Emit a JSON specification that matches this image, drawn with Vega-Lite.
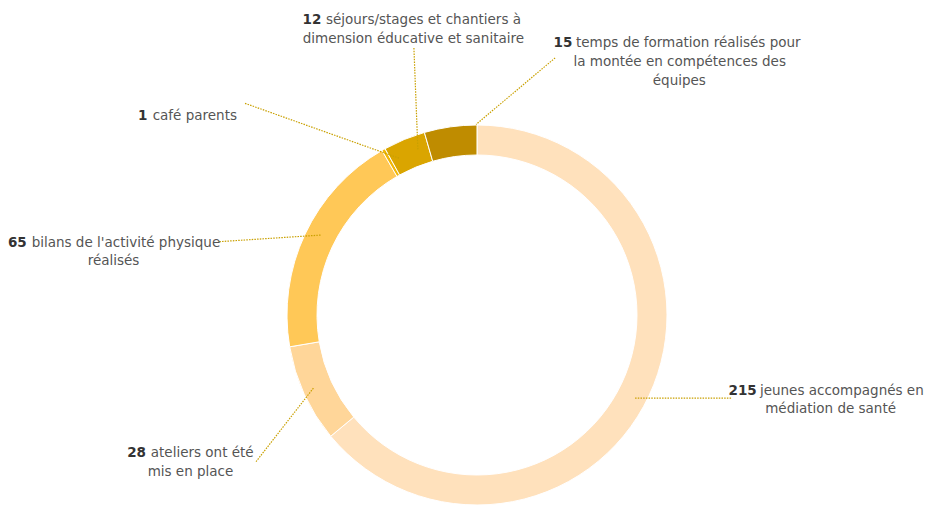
{
  "$schema": "https://vega.github.io/schema/vega-lite/v6.json",
  "width": 925,
  "height": 508,
  "padding": 0,
  "autosize": "none",
  "background": "#ffffff",
  "config": {"view": {"stroke": null}},
  "datasets": {
    "segments": [
      {"label": "jeunes accompagnés en médiation de santé", "value": 215, "order": 1},
      {"label": "ateliers ont été mis en place", "value": 28, "order": 2},
      {"label": "bilans de l'activité physique réalisés", "value": 65, "order": 3},
      {"label": "café parents", "value": 1, "order": 4},
      {"label": "séjours/stages et chantiers à dimension éducative et sanitaire", "value": 12, "order": 5},
      {"label": "temps de formation réalisés pour la montée en compétences des équipes", "value": 15, "order": 6}
    ],
    "leaders": [
      {"x": -33.2, "y": 140.5, "x2": -31.1, "y2": 86.8},
      {"x": 41.1, "y": 135.3, "x2": -0.5, "y2": 100.3},
      {"x": -122.1, "y": 111.4, "x2": -40.9, "y2": 82.5},
      {"x": -135.6, "y": 38.6, "x2": -81.7, "y2": 42.1},
      {"x": -116.3, "y": -77.2, "x2": -85.8, "y2": -38.1},
      {"x": 83.2, "y": -43.8, "x2": 134.1, "y2": -43.8}
    ],
    "numbers": [
      {"x": -81.9, "y": 153.2, "text": "12"},
      {"x": 50.2, "y": 141.2, "text": "15"},
      {"x": -173.5, "y": 102.6, "text": "1"},
      {"x": -237.0, "y": 35.9, "text": "65"},
      {"x": -174.2, "y": -74.9, "text": "28"},
      {"x": 147.2, "y": -42.1, "text": "215"}
    ],
    "firstlines": [
      {"x": -79.5, "y": 153.2, "text": "séjours/stages et chantiers à"},
      {"x": 52.1, "y": 141.2, "text": "temps de formation réalisés pour"},
      {"x": -170.7, "y": 102.6, "text": "café parents"},
      {"x": -234.4, "y": 35.9, "text": "bilans de l'activité physique"},
      {"x": -171.7, "y": -74.9, "text": "ateliers ont été"},
      {"x": 148.9, "y": -42.1, "text": "jeunes accompagnés en"}
    ],
    "otherlines": [
      {"x": -33.5, "y": 142.9, "text": "dimension éducative et sanitaire"},
      {"x": 106.7, "y": 131.0, "text": "la montée en compétences des"},
      {"x": 106.5, "y": 120.8, "text": "équipes"},
      {"x": -191.3, "y": 26.1, "text": "réalisés"},
      {"x": -150.8, "y": -85.0, "text": "mis en place"},
      {"x": 186.1, "y": -51.8, "text": "médiation de santé"}
    ]
  },
  "layer": [
    {
      "data": {"name": "segments"},
      "mark": {"type": "arc", "outerRadius": 190, "innerRadius": 160, "stroke": "#ffffff", "strokeWidth": 1},
      "encoding": {
        "x": {"datum": 0, "type": "quantitative", "scale": {"domain": [-251.05, 235.79], "nice": false, "zero": false}, "axis": null},
        "y": {"datum": 0, "type": "quantitative", "scale": {"domain": [-101.58, 165.79], "nice": false, "zero": false}, "axis": null},
        "theta": {"field": "value", "type": "quantitative", "stack": true},
        "order": {"field": "order", "type": "quantitative"},
        "color": {
          "field": "label",
          "type": "nominal",
          "sort": null,
          "scale": {
            "domain": [
              "jeunes accompagnés en médiation de santé",
              "ateliers ont été mis en place",
              "bilans de l'activité physique réalisés",
              "café parents",
              "séjours/stages et chantiers à dimension éducative et sanitaire",
              "temps de formation réalisés pour la montée en compétences des équipes"
            ],
            "range": ["#FFE1BC", "#FFD699", "#FFC857", "#F2B705", "#DAA500", "#BF8C00"]
          },
          "legend": null
        }
      }
    },
    {
      "data": {"name": "leaders"},
      "mark": {"type": "rule", "color": "#C9A000", "strokeWidth": 1.2, "strokeDash": [1.5, 1.2]},
      "encoding": {
        "x": {"field": "x", "type": "quantitative", "scale": {"domain": [-251.05, 235.79], "nice": false, "zero": false}, "axis": null},
        "y": {"field": "y", "type": "quantitative", "scale": {"domain": [-101.58, 165.79], "nice": false, "zero": false}, "axis": null},
        "x2": {"field": "x2"},
        "y2": {"field": "y2"}
      }
    },
    {
      "data": {"name": "numbers"},
      "mark": {"type": "text", "align": "right", "baseline": "alphabetic", "font": "DejaVu Sans", "fontSize": 13.5, "fontWeight": "bold", "color": "#333333"},
      "encoding": {
        "x": {"field": "x", "type": "quantitative", "scale": {"domain": [-251.05, 235.79], "nice": false, "zero": false}, "axis": null},
        "y": {"field": "y", "type": "quantitative", "scale": {"domain": [-101.58, 165.79], "nice": false, "zero": false}, "axis": null},
        "text": {"field": "text"}
      }
    },
    {
      "data": {"name": "firstlines"},
      "mark": {"type": "text", "align": "left", "baseline": "alphabetic", "font": "DejaVu Sans", "fontSize": 13.5, "color": "#555555"},
      "encoding": {
        "x": {"field": "x", "type": "quantitative", "scale": {"domain": [-251.05, 235.79], "nice": false, "zero": false}, "axis": null},
        "y": {"field": "y", "type": "quantitative", "scale": {"domain": [-101.58, 165.79], "nice": false, "zero": false}, "axis": null},
        "text": {"field": "text"}
      }
    },
    {
      "data": {"name": "otherlines"},
      "mark": {"type": "text", "align": "center", "baseline": "alphabetic", "font": "DejaVu Sans", "fontSize": 13.5, "color": "#555555"},
      "encoding": {
        "x": {"field": "x", "type": "quantitative", "scale": {"domain": [-251.05, 235.79], "nice": false, "zero": false}, "axis": null},
        "y": {"field": "y", "type": "quantitative", "scale": {"domain": [-101.58, 165.79], "nice": false, "zero": false}, "axis": null},
        "text": {"field": "text"}
      }
    }
  ]
}
